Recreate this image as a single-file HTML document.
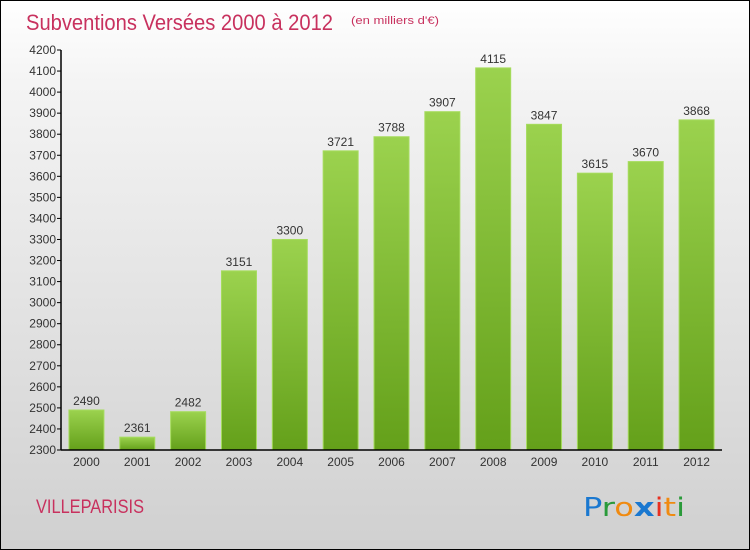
<!DOCTYPE html>
<html><head><meta charset="utf-8"><style>
html,body{margin:0;padding:0}
body{width:750px;height:550px;overflow:hidden;font-family:"Liberation Sans",sans-serif}
#frame{position:absolute;left:0;top:0;width:748px;height:548px;border:1px solid #000;background:linear-gradient(#ffffff,#f4f4f4 15%,#d0d0d0)}
</style></head><body>
<div id="frame">
<svg id="chart" width="750" height="550" style="position:absolute;left:-1px;top:-1px">
<defs>
<linearGradient id="bg" x1="0" y1="0" x2="0" y2="1">
<stop offset="0" stop-color="#9bd24e"/><stop offset="1" stop-color="#64a01a"/>
</linearGradient>
</defs>
<text x="26" y="30" font-size="22" fill="#c8315e" textLength="307" lengthAdjust="spacingAndGlyphs">Subventions Versées 2000 à 2012</text>
<text x="351" y="24" font-size="11" fill="#c8315e" textLength="88" lengthAdjust="spacingAndGlyphs">(en milliers d'€)</text>
<text x="36" y="513" font-size="19" fill="#c8315e" textLength="108" lengthAdjust="spacingAndGlyphs">VILLEPARISIS</text>
<g font-size="26" font-family="'DejaVu Sans',sans-serif">
<text x="583" y="516" textLength="102" lengthAdjust="spacingAndGlyphs"><tspan fill="#1a78d0">P</tspan><tspan fill="#2a9a3a">r</tspan><tspan fill="#f08a10">o</tspan><tspan fill="#1a78d0" font-weight="bold">x</tspan><tspan fill="#e83020">i</tspan><tspan fill="#f08a10">t</tspan><tspan fill="#2a9a3a">i</tspan></text>
</g>
<g id="plot"></g>
</svg>
</div>
<script>
const categories=["2000","2001","2002","2003","2004","2005","2006","2007","2008","2009","2010","2011","2012"];
const values=[2490,2361,2482,3151,3300,3721,3788,3907,4115,3847,3615,3670,3868];
const yTicks=[2300,2400,2500,2600,2700,2800,2900,3000,3100,3200,3300,3400,3500,3600,3700,3800,3900,4000,4100,4200];
const X0=61,X1=722,Y0=450,Y1=50,YMIN=2300,YMAX=4200;
const y=v=>Y0-(v-YMIN)/(YMAX-YMIN)*(Y0-Y1);
const bw=(X1-X0)/categories.length;
const xc=i=>X0+bw*(i+0.5);
const NS="http://www.w3.org/2000/svg";
const g=document.getElementById('plot');
function mk(t,a){const e=document.createElementNS(NS,t);for(const k in a)e.setAttribute(k,a[k]);g.appendChild(e);return e;}
categories.forEach((c,i)=>{
  const r=mk('rect',{x:xc(i)-17.5,y:y(values[i]),width:35,height:Y0-y(values[i]),fill:'url(#bg)',stroke:'#a6dc5e','stroke-width':1});
  
  
  const t=mk('text',{x:xc(i),y:y(values[i])-5,'font-size':12,'text-anchor':'middle',fill:'#333'});
  t.textContent=values[i];
  
  
  const l=mk('text',{x:xc(i),y:Y0+16,'font-size':12,'text-anchor':'middle',fill:'#333'});
  l.textContent=c;
  
  
});
yTicks.forEach(v=>{
  const tk=mk('line',{x1:X0-4,x2:X0,y1:y(v),y2:y(v),stroke:'#000'});
  
  
  const t=mk('text',{x:X0-5,y:y(v)+4,'font-size':12,'text-anchor':'end',fill:'#333'});
  t.textContent=v;
  
  
});
const ya=mk('line',{x1:X0,x2:X0,y1:Y1,y2:Y0,stroke:'#000','stroke-width':1.5});


const xa=mk('line',{x1:X0,x2:X1,y1:Y0,y2:Y0,stroke:'#000','stroke-width':1.5});


</script>
</body></html>
